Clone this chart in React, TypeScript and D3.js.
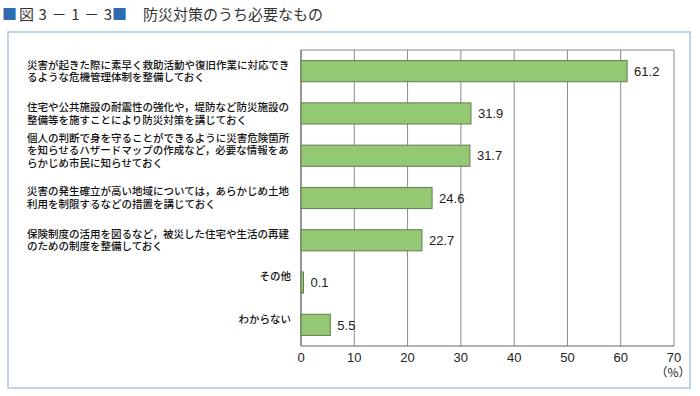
import React, { useEffect, useRef } from 'react';
import * as d3 from 'd3';

const categories: string[][] = [
  ['災害が起きた際に素早く救助活動や復旧作業に対応でき', 'るような危機管理体制を整備しておく'],
  ['住宅や公共施設の耐震性の強化や，堤防など防災施設の', '整備等を施すことにより防災対策を講じておく'],
  ['個人の判断で身を守ることができるように災害危険箇所', 'を知らせるハザードマップの作成など，必要な情報をあ', 'らかじめ市民に知らせておく'],
  ['災害の発生確立が高い地域については，あらかじめ土地', '利用を制限するなどの措置を講じておく'],
  ['保険制度の活用を図るなど，被災した住宅や生活の再建', 'のための制度を整備しておく'],
  ['その他'],
  ['わからない'],
];
const values = [61.2, 31.9, 31.7, 24.6, 22.7, 0.1, 5.5];
const xTicks = [0, 10, 20, 30, 40, 50, 60, 70];

const JP = '"Noto Sans CJK JP", "Noto Sans", sans-serif';
const NUM = '"Liberation Sans", Arial, sans-serif';

export default function App() {
  const svgRef = useRef<SVGSVGElement>(null);

  useEffect(() => {
    const svg = d3.select(svgRef.current);
    svg.selectAll('*').remove();

    const width = 700;
    const height = 396;
    const margin = { top: 50, left: 301, right: 26, bottom: 50 };
    const plotW = width - margin.left - margin.right;
    const plotH = height - margin.top - margin.bottom;

    // frame
    svg.append('rect')
      .attr('x', 8).attr('y', 32)
      .attr('width', 682).attr('height', 356)
      .attr('fill', 'none')
      .attr('stroke', '#a9c9e6')
      .attr('stroke-width', 1.5);

    // title
    const blue = '#2e6bb0';
    const tStyle = (t: d3.Selection<SVGTextElement, unknown, null, undefined>) => t
      .attr('y', 20)
      .style('font-family', JP)
      .style('font-size', '15px')
      .attr('fill', '#333');
    svg.append('text').call(tStyle).attr('x', 2).attr('fill', blue).text('■');
    svg.append('text').call(tStyle).attr('x', 19)
      .attr('textLength', 93).attr('lengthAdjust', 'spacing')
      .text('図3－1－3');
    svg.append('text').call(tStyle).attr('x', 112).attr('fill', blue).text('■');
    svg.append('text').call(tStyle).attr('x', 143).text('防災対策のうち必要なもの');

    const chart = svg.append('g')
      .attr('transform', `translate(${margin.left},${margin.top})`);

    const x = d3.scaleLinear().domain([0, 70]).range([0, plotW]);
    const y = d3.scaleBand<number>()
      .domain(values.map((_, i) => i))
      .range([0, plotH])
      .paddingInner(0.5)
      .paddingOuter(0.25);

    // grid
    chart.append('g')
      .selectAll('line')
      .data(xTicks)
      .join('line')
      .attr('x1', (d) => x(d)).attr('x2', (d) => x(d))
      .attr('y1', 0).attr('y2', plotH)
      .attr('stroke', '#8a8a8a')
      .attr('stroke-width', 1);

    chart.append('line')
      .attr('x1', 0).attr('x2', plotW)
      .attr('y1', 0).attr('y2', 0)
      .attr('stroke', '#8a8a8a');
    chart.append('line')
      .attr('x1', 0).attr('x2', plotW)
      .attr('y1', plotH).attr('y2', plotH)
      .attr('stroke', '#666');
    chart.append('line')
      .attr('x1', 0).attr('x2', 0)
      .attr('y1', 0).attr('y2', plotH)
      .attr('stroke', '#666');

    // bars (tiny values kept visible as a thin sliver)
    chart.append('g')
      .selectAll('rect')
      .data(values)
      .join('rect')
      .attr('x', 0)
      .attr('y', (_, i) => y(i)!)
      .attr('width', (d) => Math.max(x(d), 2.5))
      .attr('height', y.bandwidth())
      .attr('fill', '#95c872')
      .attr('stroke', '#627d52')
      .attr('stroke-width', 1);

    // value labels
    chart.append('g')
      .selectAll('text')
      .data(values)
      .join('text')
      .attr('x', (d) => Math.max(x(d), 2.5) + 7)
      .attr('y', (_, i) => y(i)! + y.bandwidth() / 2)
      .attr('dy', '0.36em')
      .style('font-family', NUM)
      .style('font-size', '13px')
      .attr('fill', '#222')
      .text((d) => d.toFixed(1));

    // category labels
    const lineH = 12.7;
    categories.forEach((lines, i) => {
      const cy = y(i)! + y.bandwidth() / 2;
      const short = lines.length === 1;
      const offset = short ? -6 : lines.length > 2 ? -5 : 0;
      const startY = cy + offset - ((lines.length - 1) * lineH) / 2;
      const lx = short ? -10 : 27 - margin.left;
      const t = chart.append('text')
        .attr('text-anchor', short ? 'end' : 'start')
        .style('font-family', JP)
        .style('font-size', '10.5px')
        .style('font-weight', 500)
        .attr('fill', '#111');
      lines.forEach((ln, j) => {
        t.append('tspan')
          .attr('x', lx)
          .attr('y', startY + j * lineH)
          .attr('dy', '0.36em')
          .text(ln);
      });
    });

    // x axis labels
    chart.append('g')
      .selectAll('text')
      .data(xTicks)
      .join('text')
      .attr('x', (d) => x(d))
      .attr('y', plotH + 11)
      .attr('dy', '0.36em')
      .attr('text-anchor', 'middle')
      .style('font-family', NUM)
      .style('font-size', '13px')
      .attr('fill', '#222')
      .text((d) => d);

    chart.append('text')
      .attr('x', x(70) - 1)
      .attr('y', plotH + 27)
      .attr('dy', '0.36em')
      .attr('text-anchor', 'middle')
      .style('font-family', JP)
      .style('font-size', '12px')
      .attr('fill', '#222')
      .text('（%）');
  }, []);

  return (
    <svg
      ref={svgRef}
      width={700}
      height={396}
      style={{ position: 'absolute', left: 0, top: 0, background: '#fff' }}
    />
  );
}
